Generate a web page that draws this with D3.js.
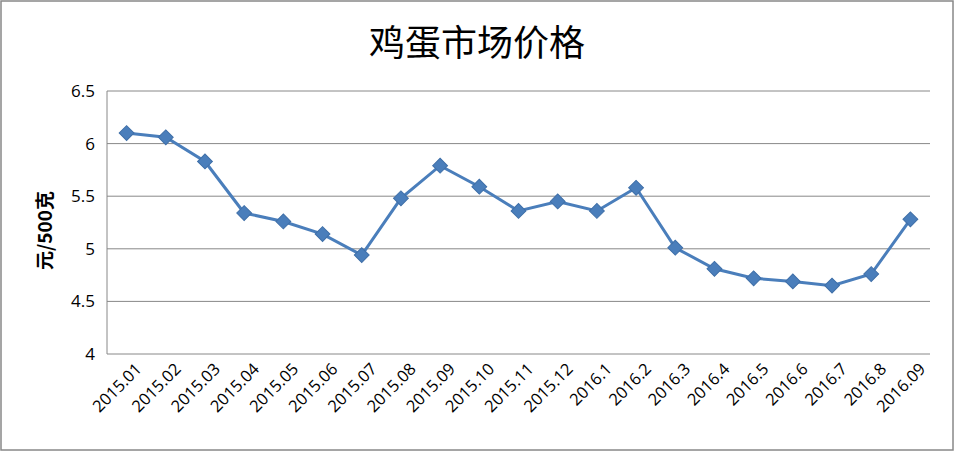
<!DOCTYPE html>
<html><head><meta charset="utf-8">
<script src="https://cdn.jsdelivr.net/npm/d3@7"></script>
<style>body{margin:0;background:#fff}svg{display:block;font-family:Calibri,"Liberation Sans","Noto Sans CJK SC",sans-serif}</style>
</head><body><svg id="chart" width="954" height="451"></svg>
<script>
const months = ['2015.01','2015.02','2015.03','2015.04','2015.05','2015.06','2015.07','2015.08','2015.09','2015.10','2015.11','2015.12','2016.1','2016.2','2016.3','2016.4','2016.5','2016.6','2016.7','2016.8','2016.09'];
const prices = [6.10,6.06,5.83,5.34,5.26,5.14,4.94,5.48,5.79,5.59,5.36,5.45,5.36,5.58,5.01,4.81,4.72,4.69,4.65,4.76,5.28];
const yTicks = [4,4.5,5,5.5,6,6.5];

const svg = d3.select('#chart');
const m = {left: 107, right: 24, top: 91, bottom: 97};
const w = 954 - m.left - m.right, h = 451 - m.top - m.bottom;

svg.append('rect').attr('x', 1).attr('y', 1).attr('width', 952).attr('height', 449)
  .attr('fill', '#fff').attr('stroke', '#888').attr('stroke-width', 1.5);

const x = d3.scaleBand().domain(months).range([0, w]);
const y = d3.scaleLinear().domain([4, 6.5]).range([h, 0]);
const g = svg.append('g').attr('transform', `translate(${m.left},${m.top})`);

g.selectAll('.grid').data(yTicks).join('line')
  .attr('x1', 0).attr('x2', w).attr('y1', d => y(d)).attr('y2', d => y(d))
  .attr('stroke', '#888').attr('stroke-width', 1);
g.append('line').attr('x1', 0).attr('x2', 0).attr('y1', 0).attr('y2', h).attr('stroke', '#888');

const ya = g.append('g').call(d3.axisLeft(y).tickValues(yTicks).tickSize(0).tickPadding(12).tickFormat(d3.format('')));
ya.select('.domain').remove();
ya.selectAll('text').attr('font-size', 17).attr('fill', '#000')
  .attr('font-family', '"Open Sans","Liberation Sans",sans-serif');

const xa = g.append('g').attr('transform', `translate(0,${h})`).call(d3.axisBottom(x).tickSize(0));
xa.select('.domain').remove();
xa.selectAll('text').attr('font-size', 16.5).attr('fill', '#000')
  .attr('font-family', '"Open Sans","Liberation Sans",sans-serif')
  .attr('text-anchor', 'end').attr('dy', 0)
  .attr('transform', 'translate(14,14) rotate(-45)');

const cx = d => x(d) + x.bandwidth() / 2;
g.append('path').datum(prices)
  .attr('fill', 'none').attr('stroke', '#4a7ebb').attr('stroke-width', 3)
  .attr('d', d3.line().x((d, i) => cx(months[i])).y(d => y(d)));
g.selectAll('.pt').data(prices).join('path')
  .attr('transform', (d, i) => `translate(${cx(months[i])},${y(d)}) rotate(45)`)
  .attr('d', d3.symbol(d3.symbolSquare, 110))
  .attr('fill', '#4a7ebb').attr('stroke', '#3f6fa8');

svg.append('text').attr('x', 477).attr('y', 56).attr('text-anchor', 'middle')
  .attr('font-size', 36).attr('font-family', '"Noto Sans CJK SC",sans-serif').text('鸡蛋市场价格');
svg.append('text').attr('transform', `translate(52,${m.top + h / 2 + 8}) rotate(-90)`)
  .attr('text-anchor', 'middle').attr('font-size', 19).attr('font-weight', 'bold')
  .attr('font-family', '"Noto Sans CJK SC",sans-serif').text('元/500克');
</script></body></html>
